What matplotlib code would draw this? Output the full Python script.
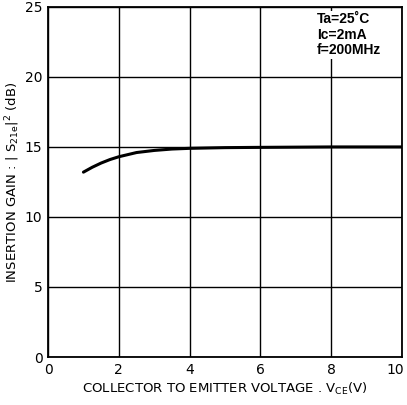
import numpy as np
import matplotlib.pyplot as plt
import matplotlib.transforms as mtransforms

# Vce (V) vs insertion gain |S21e|^2 (dB)
vce = [1.0, 1.25, 1.5, 1.75, 2.0, 2.5, 3.0, 3.5, 4.0, 5.0, 6.0, 8.0, 10.0]
gain = [13.2, 13.55, 13.85, 14.1, 14.3, 14.6, 14.75, 14.85, 14.9, 14.95, 14.97, 15.0, 15.0]

x_ticks = [0, 2, 4, 6, 8, 10]
y_ticks = [0, 5, 10, 15, 20, 25]
conditions = "Ta=25\u02daC\nIc=2mA\nf=200MHz"

plt.rcParams['font.family'] = ['DejaVu Sans']

fig = plt.figure(figsize=(4.07, 4.05), dpi=100)
ax = fig.add_axes([0.118, 0.1185, 0.870, 0.8645])

ax.plot(vce, gain, color='black', linewidth=2.2, solid_capstyle='round')

ax.set_xlim(0, 10)
ax.set_ylim(0, 25)
ax.set_xticks(x_ticks)
ax.set_yticks(y_ticks)
ax.grid(True, color='black', linewidth=1.0)
ax.tick_params(length=0, labelsize=10, pad=4)
for s in ax.spines.values():
    s.set_linewidth(1.3)

# last x tick label sits on the figure edge, nudge it in a bit
last = ax.get_xticklabels()[-1]
last.set_transform(last.get_transform() + mtransforms.ScaledTranslation(-5 / 72, 0, fig.dpi_scale_trans))

ax.set_xlabel("COLLECTOR TO EMITTER VOLTAGE . V$_{\\mathrm{CE}}$(V)", fontsize=9.5, labelpad=3)
ax.set_ylabel("INSERTION GAIN : | S$_{\\mathrm{21e}}$|$^{2}$ (dB)", fontsize=9.5, labelpad=2)

ax.text(0.76, 0.985, conditions, transform=ax.transAxes, ha='left', va='top',
        fontsize=10, fontweight='bold', linespacing=1.15, family='Liberation Sans',
        bbox=dict(facecolor='white', edgecolor='none', pad=1))

fig.savefig("out.png", dpi=100)
